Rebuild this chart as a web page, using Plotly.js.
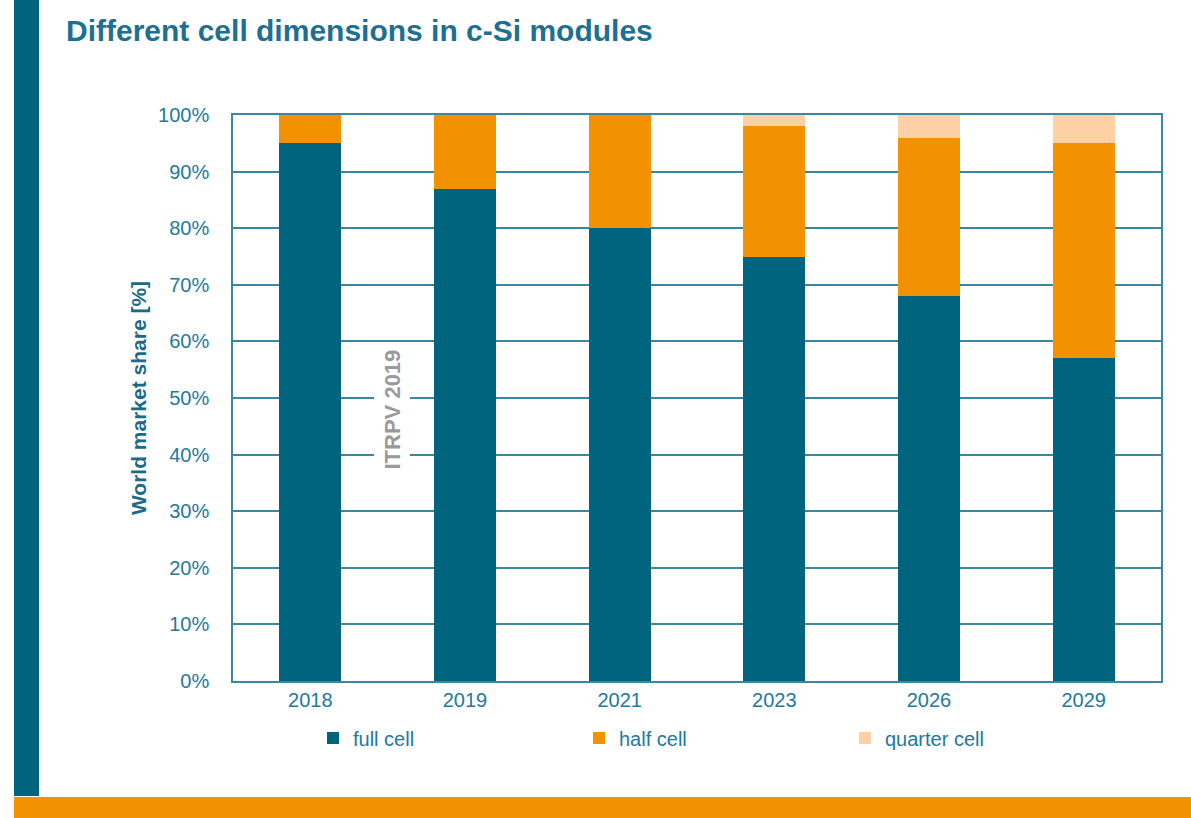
<!DOCTYPE html>
<html>
<head>
<meta charset="utf-8">
<script src="https://cdn.plot.ly/plotly-3.0.1.min.js"></script>
<style>html,body{margin:0;padding:0;background:#fff;}#chart{width:1191px;height:818px;}</style>
</head>
<body>
<div id="chart"></div>
<script>
const years = ['2018', '2019', '2021', '2023', '2026', '2029'];
const fullCell = [95, 87, 80, 75, 68, 57];
const halfCell = [5, 13, 20, 23, 28, 38];
const quarterCell = [0, 0, 0, 2, 4, 5];
const seriesNames = ['full cell', 'half cell', 'quarter cell'];
const seriesColors = ['#00647f', '#f39200', '#fdd1a5'];
const yTicks = [0, 10, 20, 30, 40, 50, 60, 70, 80, 90, 100];

const W = 1191, H = 818;
const L = 233, R = 1161, T = 115, B = 681;
const px = x => (x - L) / (R - L);
const py = y => (B - y) / (B - T);

const seriesValues = [fullCell, halfCell, quarterCell];
const traces = seriesValues.map((vals, i) => ({
  type: 'bar',
  name: seriesNames[i],
  x: years,
  y: vals,
  width: 0.4,
  marker: {color: seriesColors[i], line: {width: 0}},
  hoverinfo: 'x+y+name'
}));

const axisColor = '#3a87a3';
const textColor = '#2379a0';

const layout = {
  width: W, height: H,
  margin: {l: L, r: W - R, t: T, b: H - B, pad: 0},
  paper_bgcolor: '#ffffff',
  plot_bgcolor: '#ffffff',
  barmode: 'stack',
  font: {family: 'Liberation Sans, Arial, sans-serif', color: textColor},
  title: {
    text: '<b>Different cell dimensions in c-Si modules</b>',
    font: {size: 30, color: '#1d7094', family: 'Liberation Sans, Arial, sans-serif'},
    xref: 'container', yref: 'container',
    x: 66 / W, xanchor: 'left',
    y: 1 - 30 / H, yanchor: 'middle'
  },
  xaxis: {
    type: 'category',
    showgrid: false,
    showline: true, mirror: true, linecolor: axisColor, linewidth: 1.5,
    ticks: '',
    tickfont: {size: 20, color: textColor},
    ticklabelstandoff: 0,
    fixedrange: true
  },
  yaxis: {
    range: [0, 100],
    tickvals: yTicks,
    ticktext: yTicks.map(v => v + '%'),
    showgrid: true, gridcolor: axisColor, gridwidth: 1.5,
    showline: true, mirror: true, linecolor: axisColor, linewidth: 1.5,
    zeroline: false,
    ticks: '',
    tickfont: {size: 20, color: textColor},
    ticklabelstandoff: 18,
    title: {
      text: '<b>World market share [%]</b>',
      font: {size: 21, color: '#1a6a8c'},
      standoff: 6
    },
    fixedrange: true
  },
  showlegend: true,
  legend: {
    orientation: 'h',
    x: px(313), xanchor: 'left',
    y: py(738), yanchor: 'middle',
    entrywidth: 221, entrywidthmode: 'pixels',
    font: {size: 20, color: textColor},
    bgcolor: 'rgba(0,0,0,0)',
    traceorder: 'normal'
  },
  annotations: [{
    text: '<b>ITRPV 2019</b>',
    xref: 'paper', yref: 'paper',
    x: px(374), y: py(410),
    textangle: -90,
    showarrow: false,
    font: {size: 22, color: '#9a9a9a'},
    bgcolor: '#ffffff',
    borderpad: 5
  }],
  shapes: [
    {type: 'rect', xref: 'paper', yref: 'paper', layer: 'above',
     x0: px(14), x1: px(39), y0: py(796), y1: py(0),
     fillcolor: '#00647f', line: {width: 0}},
    {type: 'rect', xref: 'paper', yref: 'paper', layer: 'above',
     x0: px(14), x1: px(W + 5), y0: py(818), y1: py(797),
     fillcolor: '#f39200', line: {width: 0}}
  ]
};

Plotly.newPlot('chart', traces, layout, {displayModeBar: false, staticPlot: false});
</script>
</body>
</html>
